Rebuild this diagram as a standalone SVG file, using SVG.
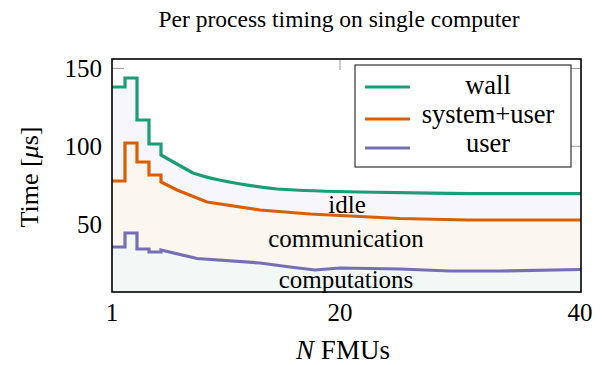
<svg xmlns="http://www.w3.org/2000/svg" width="603" height="365" viewBox="0 0 603 365">
<style>
text{font-family:"Liberation Serif","Times New Roman",serif;fill:#000}
.tick{stroke:#999;stroke-width:1;fill:none}
.ln{fill:none;stroke-width:3.2;stroke-linejoin:miter}
.wall{stroke:#1b9e77}.sys{stroke:#d95f02}.usr{stroke:#7570b3}
.lbl{font-size:25px;text-anchor:middle}
.leg{font-size:26.5px;text-anchor:middle}
.tl{font-size:25px;text-anchor:end}
</style>
<rect width="603" height="365" fill="#fff"/>
<text x="339" y="27" font-size="23.5" text-anchor="middle">Per process timing on single computer</text>
<g id="ticks">
<path class="tick" d="M112,68.4H124M112,146.3H124M112,224.2H124M581,68.4H569M581,146.3H569M581,224.2H569M340,59V70M340,292V281"/>
</g>
<g id="areas">
<path fill="#f7f7fb" d="M112,87H125V78H137V120H149V144H161V155C168,159 175,163 193,173C210,179 243,185 277,189C300,190.5 330,191.5 360,192C400,192.8 433,193.3 470,193.6L581,193.6V292H112Z"/>
<path fill="#fcf6f0" d="M112,181H125V143H137V162H149V175H161V182L177,190L207,202L260,210L310,214L360,216.5L400,218.5L467,220L581,220V292H112Z"/>
<path fill="#f2f8f6" d="M112,247H125V233H137V249H149V252H161V250L197,258.5L260,263L290,267L315,270L340,268L400,269L450,271L500,271L581,269.5V292H112Z"/>
</g>
<g id="curves">
<path class="ln wall" d="M112,87H125V78H137V120H149V144H161V155C168,159 175,163 193,173C210,179 243,185 277,189C300,190.5 330,191.5 360,192C400,192.8 433,193.3 470,193.6L581,193.6"/>
<path class="ln sys" d="M112,181H125V143H137V162H149V175H161V182L177,190L207,202L260,210L310,214L360,216.5L400,218.5L467,220L581,220"/>
<path class="ln usr" d="M112,247H125V233H137V249H149V252H161V250L197,258.5L260,263L290,267L315,270L340,268L400,269L450,271L500,271L581,269.5"/>
</g>
<g id="region-labels">
<text class="lbl" x="347" y="213">idle</text>
<text class="lbl" x="346" y="247">communication</text>
<text class="lbl" x="346" y="288">computations</text>
</g>
<g id="frame">
<rect x="112" y="59" width="469" height="233" fill="none" stroke="#000" stroke-width="1.6"/>
</g>
<g id="legend">
<rect x="355" y="65" width="216" height="102" fill="#fff" stroke="#333" stroke-width="1.2"/>
<path class="ln wall" d="M365,87H410"/>
<path class="ln sys" d="M365,119H410"/>
<path class="ln usr" d="M365,148H410"/>
<text class="leg" x="488" y="94">wall</text>
<text class="leg" x="488" y="123">system+user</text>
<text class="leg" x="488" y="152">user</text>
</g>
<g id="axis-labels">
<text class="tl" x="102" y="77">150</text>
<text class="tl" x="102" y="155">100</text>
<text class="tl" x="102" y="233">50</text>
<text class="lbl" x="112" y="321">1</text>
<text class="lbl" x="340" y="321">20</text>
<text class="lbl" x="580" y="321">40</text>
<text class="lbl" x="343" y="359" style="font-size:27px"><tspan font-style="italic">N</tspan> FMUs</text>
<text class="lbl" transform="translate(38,177) rotate(-90)" style="font-size:26px">Time [<tspan font-style="italic">μ</tspan>s]</text>
</g>
</svg>
